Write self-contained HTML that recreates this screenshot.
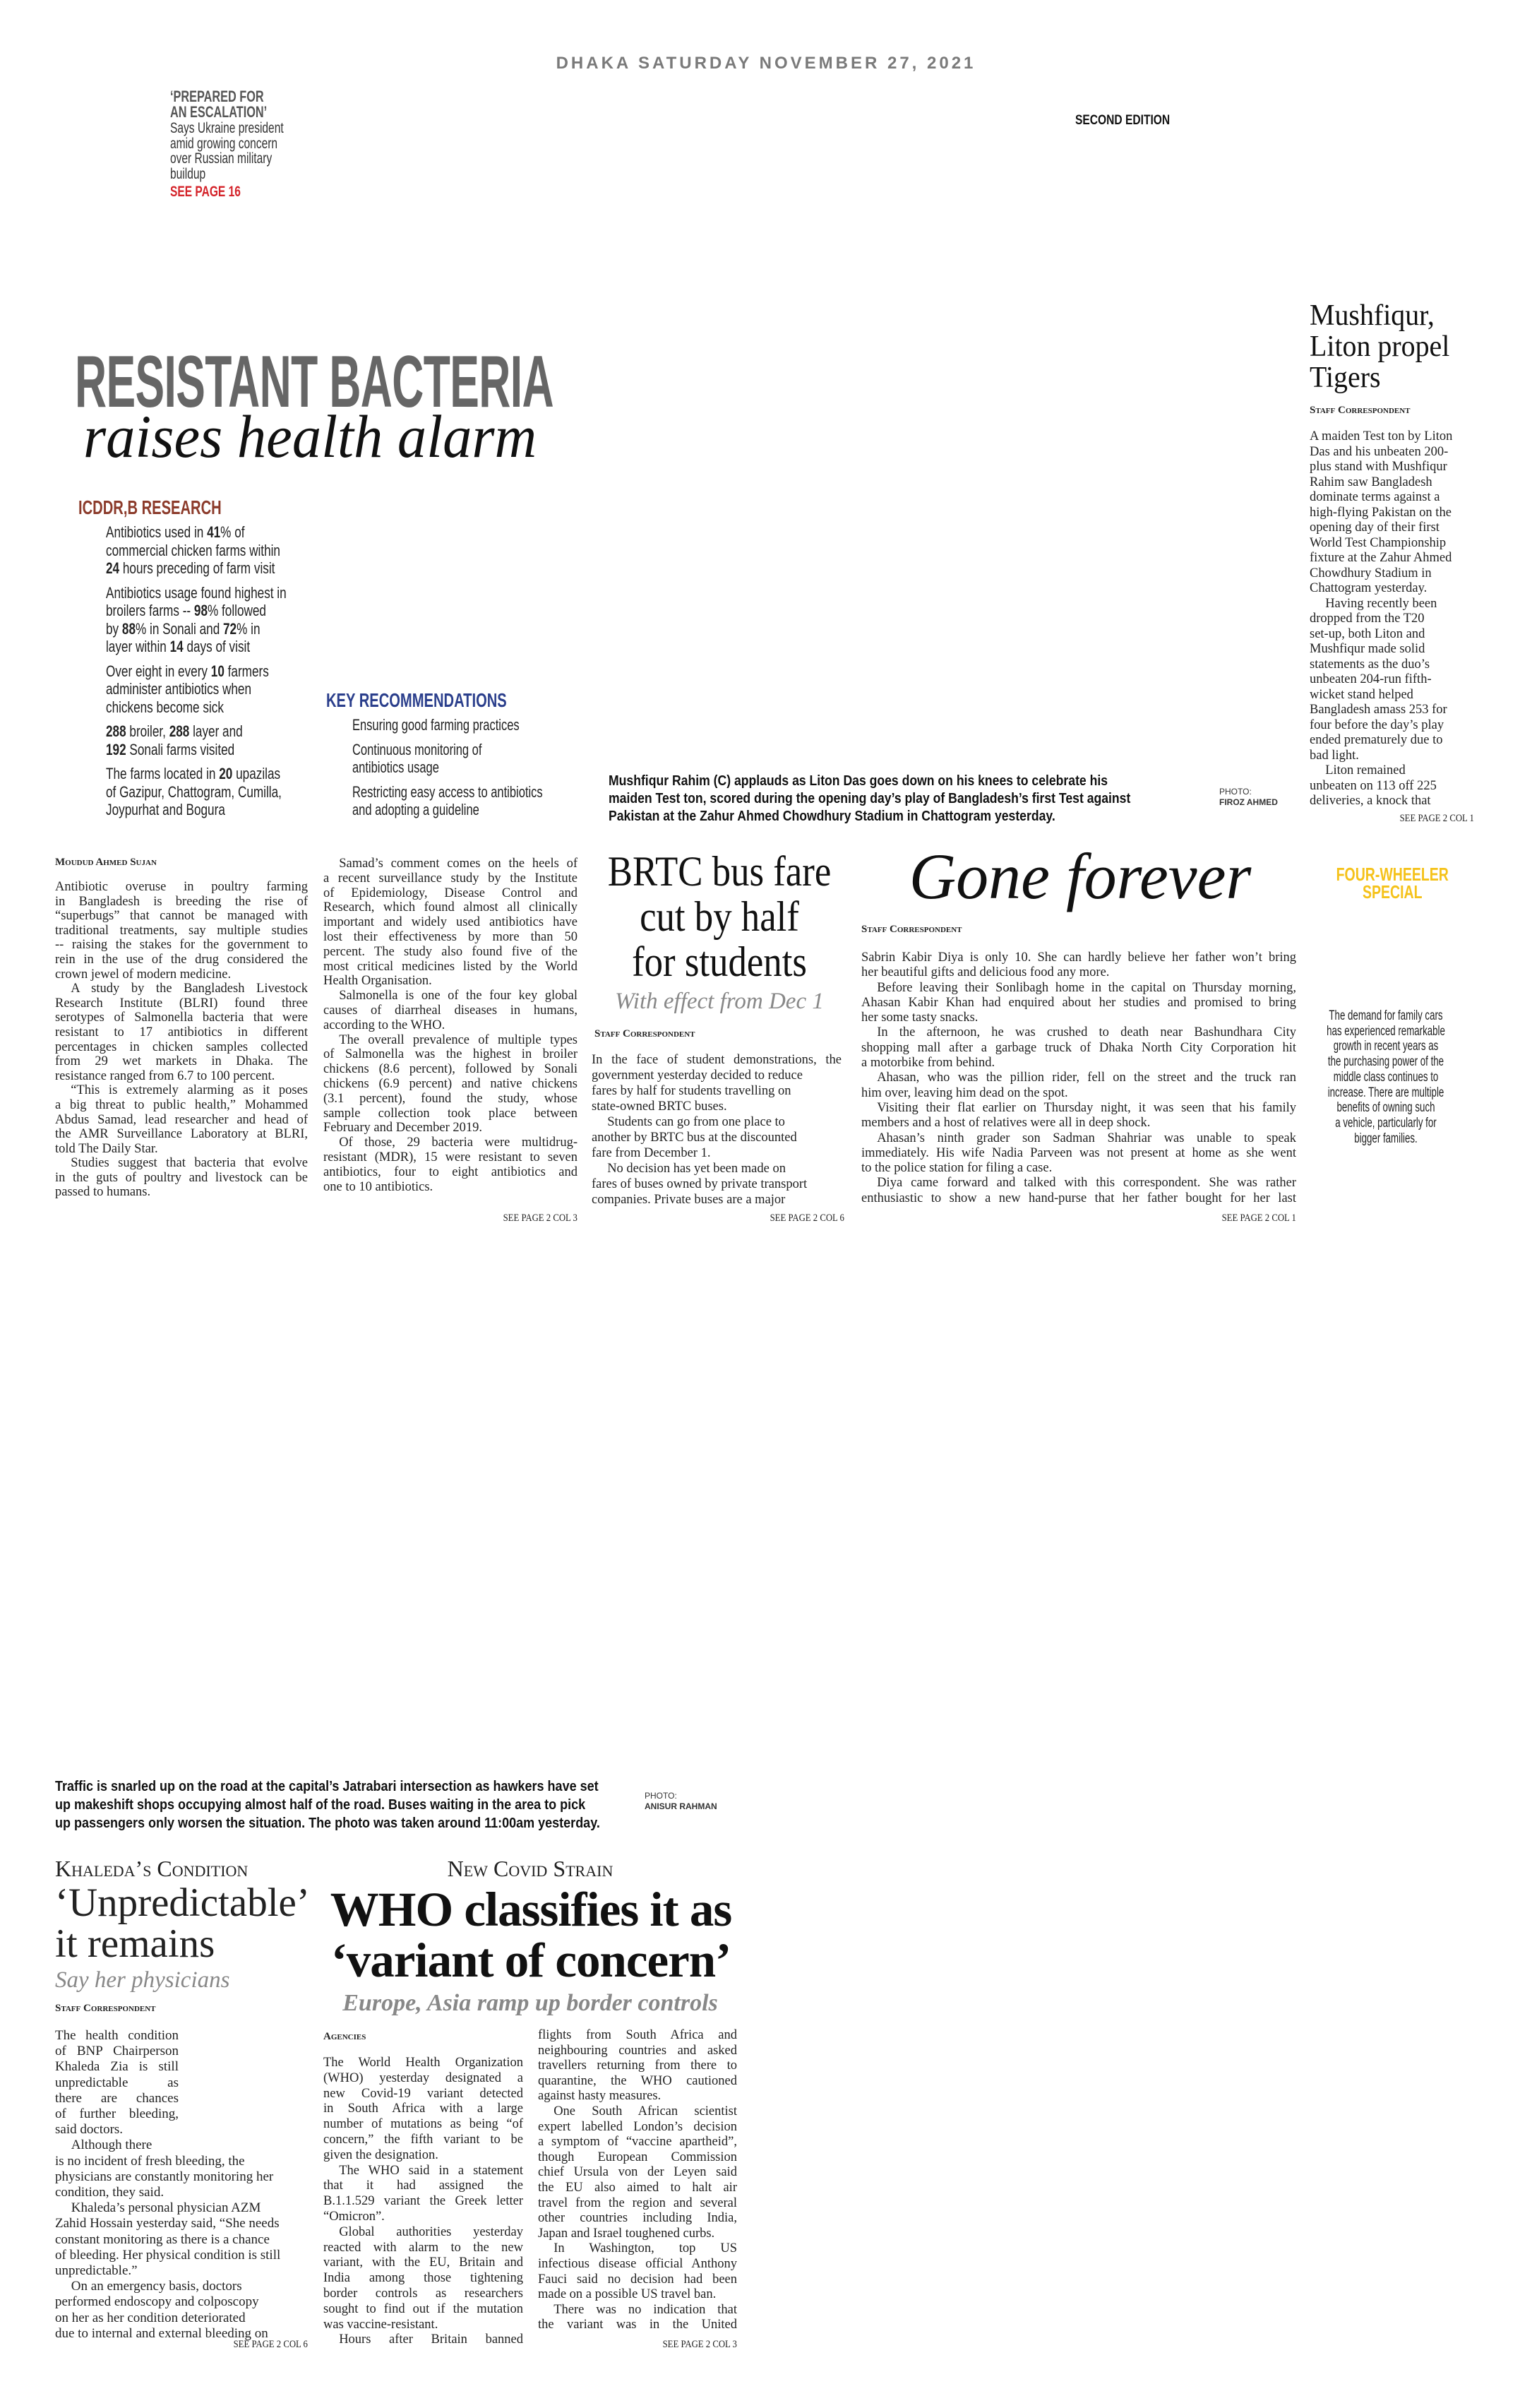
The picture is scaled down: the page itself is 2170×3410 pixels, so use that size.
<!DOCTYPE html>
<html><head><meta charset="utf-8">
<style>
*{margin:0;padding:0;box-sizing:border-box}
body{width:2170px;height:3410px;background:#fff;position:relative;overflow:hidden;font-family:"Liberation Serif",serif;color:#222}
.a{position:absolute;white-space:nowrap}
.sx{transform-origin:0 0}
.cs{font-family:"Liberation Sans",sans-serif;font-weight:bold}
.j{text-align:justify;text-align-last:justify;white-space:nowrap;overflow:visible}
.col div{white-space:nowrap}
.ind{text-indent:1.2em}
.sc{font-variant:small-caps}
.see{position:absolute;font-size:15px;font-family:"Liberation Serif",serif;text-align:right;transform:scaleX(.85);transform-origin:100% 0}
</style></head><body>

<div class="a cs" style="left:0;width:2170px;text-align:center;top:76px;font-size:24px;letter-spacing:4px;color:#7a7a7a">DHAKA SATURDAY NOVEMBER 27, 2021</div>

<div class="a sx" style="left:241px;top:126px;transform:scaleX(.74);font-family:'Liberation Sans',sans-serif;font-size:21px;line-height:21.5px;color:#333">
<div style="font-weight:bold;font-size:22px;line-height:21.5px;color:#555">‘PREPARED FOR<br>AN ESCALATION’</div>
<div style="margin-top:2px">Says Ukraine president<br>amid growing concern<br>over Russian military<br>buildup</div>
<div style="font-weight:bold;color:#d4232a;margin-top:4px">SEE PAGE 16</div>
</div>

<div class="a cs sx" style="left:1523px;top:160px;font-size:19px;transform:scaleX(.82);color:#111">SECOND EDITION</div>

<div class="a cs sx" style="left:106px;top:482px;font-size:104px;color:#666;transform:scaleX(.6);letter-spacing:-1px">RESISTANT BACTERIA</div>
<div class="a sx" style="left:118px;top:568px;font-size:86px;font-style:italic;color:#111;transform:scaleX(.96)">raises health alarm</div>

<div class="a cs sx" style="left:111px;top:703px;font-size:28px;color:#8c3b2b;transform:scaleX(.72)">ICDDR,B RESEARCH</div>
<div class="a sx" style="left:150px;top:741px;font-family:'Liberation Sans',sans-serif;font-size:22px;line-height:25.5px;transform:scaleX(.78);color:#222">
<div>Antibiotics used in <b>41</b>% of<br>commercial chicken farms within<br><b>24</b> hours preceding of farm visit</div>
<div style="margin-top:9px">Antibiotics usage found highest in<br>broilers farms -- <b>98</b>% followed<br>by <b>88</b>% in Sonali and <b>72</b>% in<br>layer within <b>14</b> days of visit</div>
<div style="margin-top:9px">Over eight in every <b>10</b> farmers<br>administer antibiotics when<br>chickens become sick</div>
<div style="margin-top:9px"><b>288</b> broiler, <b>288</b> layer and<br><b>192</b> Sonali farms visited</div>
<div style="margin-top:9px">The farms located in <b>20</b> upazilas<br>of Gazipur, Chattogram, Cumilla,<br>Joypurhat and Bogura</div>
</div>

<div class="a cs sx" style="left:462px;top:976px;font-size:28px;color:#2b3f8c;transform:scaleX(.72)">KEY RECOMMENDATIONS</div>
<div class="a sx" style="left:499px;top:1014px;font-family:'Liberation Sans',sans-serif;font-size:22px;line-height:25.5px;transform:scaleX(.75);color:#222">
<div>Ensuring good farming practices</div>
<div style="margin-top:9px">Continuous monitoring of<br>antibiotics usage</div>
<div style="margin-top:9px">Restricting easy access to antibiotics<br>and adopting a guideline</div>
</div>

<div class="a cs sx" style="left:862px;top:1094px;font-size:20px;line-height:25px;transform:scaleX(.88);color:#111">Mushfiqur Rahim (C) applauds as Liton Das goes down on his knees to celebrate his<br>maiden Test ton, scored during the opening day’s play of Bangladesh’s first Test against<br>Pakistan at the Zahur Ahmed Chowdhury Stadium in Chattogram yesterday.</div>
<div class="a" style="left:1727px;top:1114px;font-family:'Liberation Sans',sans-serif;font-size:12px;line-height:15px;color:#333">PHOTO:<br><b>FIROZ AHMED</b></div>

<div class="a sx" style="left:1855px;top:425px;font-size:42px;line-height:44px;transform:scaleX(.95);color:#111">Mushfiqur,<br>Liton propel<br>Tigers</div>
<div class="a sc" style="left:1855px;top:573px;font-size:15px;font-weight:bold;color:#222">Staff Correspondent</div>
<div class="a col" style="left:1855px;top:608px;width:232px;font-size:18.5px;line-height:21.5px">
<div>A maiden Test ton by Liton</div><div>Das and his unbeaten 200-</div><div>plus stand with Mushfiqur</div><div>Rahim saw Bangladesh</div><div>dominate terms against a</div><div>high-flying Pakistan on the</div><div>opening day of their first</div><div>World Test Championship</div><div>fixture at the Zahur Ahmed</div><div>Chowdhury Stadium in</div><div>Chattogram yesterday.</div><div class="ind">Having recently been</div><div>dropped from the T20</div><div>set-up, both Liton and</div><div>Mushfiqur made solid</div><div>statements as the duo’s</div><div>unbeaten 204-run fifth-</div><div>wicket stand helped</div><div>Bangladesh amass 253 for</div><div>four before the day’s play</div><div>ended prematurely due to</div><div>bad light.</div><div class="ind">Liton remained</div><div>unbeaten on 113 off 225</div><div>deliveries, a knock that</div>
</div>
<div class="see" style="right:82px;top:1151px">SEE PAGE 2 COL 1</div>

<!-- middle -->
<div class="a sc" style="left:78px;top:1213px;font-size:15px;font-weight:bold">Moudud Ahmed Sujan</div>
<div class="a col" style="left:78px;top:1246px;width:358px;font-size:18.5px;line-height:20.6px">
<div class="j">Antibiotic overuse in poultry farming</div><div class="j">in Bangladesh is breeding the rise of</div><div class="j">“superbugs” that cannot be managed with</div><div class="j">traditional treatments, say multiple studies</div><div class="j">-- raising the stakes for the government to</div><div class="j">rein in the use of the drug considered the</div><div>crown jewel of modern medicine.</div><div class="j ind">A study by the Bangladesh Livestock</div><div class="j">Research Institute (BLRI) found three</div><div class="j">serotypes of Salmonella bacteria that were</div><div class="j">resistant to 17 antibiotics in different</div><div class="j">percentages in chicken samples collected</div><div class="j">from 29 wet markets in Dhaka. The</div><div>resistance ranged from 6.7 to 100 percent.</div><div class="j ind">“This is extremely alarming as it poses</div><div class="j">a big threat to public health,” Mohammed</div><div class="j">Abdus Samad, lead researcher and head of</div><div class="j">the AMR Surveillance Laboratory at BLRI,</div><div>told The Daily Star.</div><div class="j ind">Studies suggest that bacteria that evolve</div><div class="j">in the guts of poultry and livestock can be</div><div>passed to humans.</div>
</div>
<div class="a col" style="left:458px;top:1213px;width:360px;font-size:18.5px;line-height:20.8px">
<div class="j ind">Samad’s comment comes on the heels of</div><div class="j">a recent surveillance study by the Institute</div><div class="j">of Epidemiology, Disease Control and</div><div class="j">Research, which found almost all clinically</div><div class="j">important and widely used antibiotics have</div><div class="j">lost their effectiveness by more than 50</div><div class="j">percent. The study also found five of the</div><div class="j">most critical medicines listed by the World</div><div>Health Organisation.</div><div class="j ind">Salmonella is one of the four key global</div><div class="j">causes of diarrheal diseases in humans,</div><div>according to the WHO.</div><div class="j ind">The overall prevalence of multiple types</div><div class="j">of Salmonella was the highest in broiler</div><div class="j">chickens (8.6 percent), followed by Sonali</div><div class="j">chickens (6.9 percent) and native chickens</div><div class="j">(3.1 percent), found the study, whose</div><div class="j">sample collection took place between</div><div>February and December 2019.</div><div class="j ind">Of those, 29 bacteria were multidrug-</div><div class="j">resistant (MDR), 15 were resistant to seven</div><div class="j">antibiotics, four to eight antibiotics and</div><div>one to 10 antibiotics.</div>
</div>
<div class="see" style="right:1352px;top:1717px">SEE PAGE 2 COL 3</div>

<div class="a sx" style="left:843px;top:1202px;width:400px;transform:scaleX(.88);text-align:center;font-size:60px;line-height:64px;color:#111">BRTC bus fare<br>cut by half<br>for students</div>
<div class="a" style="left:843px;top:1400px;width:352px;text-align:center;font-size:33px;font-style:italic;color:#888">With effect from Dec 1</div>
<div class="a sc" style="left:842px;top:1456px;font-size:15px;font-weight:bold">Staff Correspondent</div>
<div class="a col" style="left:838px;top:1490px;width:354px;font-size:18.5px;line-height:22px">
<div class="j">In the face of student demonstrations, the</div><div>government yesterday decided to reduce</div><div>fares by half for students travelling on</div><div>state-owned BRTC buses.</div><div class="ind">Students can go from one place to</div><div>another by BRTC bus at the discounted</div><div>fare from December 1.</div><div class="ind">No decision has yet been made on</div><div>fares of buses owned by private transport</div><div>companies. Private buses are a major</div>
</div>
<div class="see" style="right:974px;top:1717px">SEE PAGE 2 COL 6</div>

<div class="a" style="left:1220px;top:1188px;width:620px;text-align:center;font-size:92px;font-style:italic;color:#111">Gone forever</div>
<div class="a sc" style="left:1220px;top:1308px;font-size:15px;font-weight:bold">Staff Correspondent</div>
<div class="a col" style="left:1220px;top:1346px;width:616px;font-size:18.5px;line-height:21.3px">
<div class="j">Sabrin Kabir Diya is only 10. She can hardly believe her father won’t bring</div><div>her beautiful gifts and delicious food any more.</div><div class="j ind">Before leaving their Sonlibagh home in the capital on Thursday morning,</div><div class="j">Ahasan Kabir Khan had enquired about her studies and promised to bring</div><div>her some tasty snacks.</div><div class="j ind">In the afternoon, he was crushed to death near Bashundhara City</div><div class="j">shopping mall after a garbage truck of Dhaka North City Corporation hit</div><div>a motorbike from behind.</div><div class="j ind">Ahasan, who was the pillion rider, fell on the street and the truck ran</div><div>him over, leaving him dead on the spot.</div><div class="j ind">Visiting their flat earlier on Thursday night, it was seen that his family</div><div>members and a host of relatives were all in deep shock.</div><div class="j ind">Ahasan’s ninth grader son Sadman Shahriar was unable to speak</div><div class="j">immediately. His wife Nadia Parveen was not present at home as she went</div><div>to the police station for filing a case.</div><div class="j ind">Diya came forward and talked with this correspondent. She was rather</div><div class="j">enthusiastic to show a new hand-purse that her father bought for her last</div>
</div>
<div class="see" style="right:334px;top:1717px">SEE PAGE 2 COL 1</div>

<div class="a cs sx" style="left:1871px;top:1226px;width:270px;text-align:center;font-size:26px;line-height:25px;color:#f5c21a;transform:scaleX(.75)">FOUR-WHEELER<br>SPECIAL</div>
<div class="a sx" style="left:1858px;top:1428px;width:300px;text-align:center;font-family:'Liberation Sans',sans-serif;font-size:19px;line-height:21.7px;color:#222;transform:scaleX(.7)">The demand for family cars<br>has experienced remarkable<br>growth in recent years as<br>the purchasing power of the<br>middle class continues to<br>increase. There are multiple<br>benefits of owning such<br>a vehicle, particularly for<br>bigger families.</div>

<!-- bottom -->
<div class="a cs sx" style="left:78px;top:2517px;font-size:20px;line-height:26px;transform:scaleX(.9);color:#111">Traffic is snarled up on the road at the capital’s Jatrabari intersection as hawkers have set<br>up makeshift shops occupying almost half of the road. Buses waiting in the area to pick<br>up passengers only worsen the situation. The photo was taken around 11:00am yesterday.</div>
<div class="a" style="left:913px;top:2536px;font-family:'Liberation Sans',sans-serif;font-size:12px;line-height:15px;color:#333">PHOTO:<br><b>ANISUR RAHMAN</b></div>

<div class="a sc" style="left:78px;top:2628px;font-size:32px;color:#222">Khaleda’s Condition</div>
<div class="a" style="left:78px;top:2666px;font-size:57px;line-height:58px;color:#222">‘Unpredictable’<br>it remains</div>
<div class="a" style="left:78px;top:2786px;font-size:33px;font-style:italic;color:#888">Say her physicians</div>
<div class="a sc" style="left:78px;top:2836px;font-size:15px;font-weight:bold">Staff Correspondent</div>
<div class="a col" style="left:78px;top:2872px;width:358px;font-size:19px;line-height:22.2px">
<div style="width:175px" class="j">The health condition</div><div style="width:175px" class="j">of BNP Chairperson</div><div style="width:175px" class="j">Khaleda Zia is still</div><div style="width:175px" class="j">unpredictable as</div><div style="width:175px" class="j">there are chances</div><div style="width:175px" class="j">of further bleeding,</div><div>said doctors.</div><div class="ind">Although there</div><div>is no incident of fresh bleeding, the</div><div>physicians are constantly monitoring her</div><div>condition, they said.</div><div class="ind">Khaleda’s personal physician AZM</div><div>Zahid Hossain yesterday said, “She needs</div><div>constant monitoring as there is a chance</div><div>of bleeding. Her physical condition is still</div><div>unpredictable.”</div><div class="ind">On an emergency basis, doctors</div><div>performed endoscopy and colposcopy</div><div>on her as her condition deteriorated</div><div>due to internal and external bleeding on</div>
</div>
<div class="see" style="right:1734px;top:3312px">SEE PAGE 2 COL 6</div>

<div class="a sc" style="left:458px;top:2628px;width:586px;text-align:center;font-size:32px;color:#222">New Covid Strain</div>
<div class="a" style="left:442px;top:2668px;width:620px;text-align:center;font-size:69px;line-height:72px;color:#111;font-weight:bold;letter-spacing:-1px">WHO classifies it as<br>‘variant of concern’</div>
<div class="a" style="left:458px;top:2818px;width:586px;text-align:center;font-size:34px;font-style:italic;font-weight:bold;color:#888">Europe, Asia ramp up border controls</div>
<div class="a sc" style="left:458px;top:2876px;font-size:15px;font-weight:bold">Agencies</div>
<div class="a col" style="left:458px;top:2911px;width:283px;font-size:18.5px;line-height:21.8px">
<div class="j">The World Health Organization</div><div class="j">(WHO) yesterday designated a</div><div class="j">new Covid-19 variant detected</div><div class="j">in South Africa with a large</div><div class="j">number of mutations as being “of</div><div class="j">concern,” the fifth variant to be</div><div>given the designation.</div><div class="j ind">The WHO said in a statement</div><div class="j">that it had assigned the</div><div class="j">B.1.1.529 variant the Greek letter</div><div>“Omicron”.</div><div class="j ind">Global authorities yesterday</div><div class="j">reacted with alarm to the new</div><div class="j">variant, with the EU, Britain and</div><div class="j">India among those tightening</div><div class="j">border controls as researchers</div><div class="j">sought to find out if the mutation</div><div>was vaccine-resistant.</div><div class="j ind">Hours after Britain banned</div>
</div>
<div class="a col" style="left:762px;top:2872px;width:282px;font-size:18.5px;line-height:21.6px">
<div class="j">flights from South Africa and</div><div class="j">neighbouring countries and asked</div><div class="j">travellers returning from there to</div><div class="j">quarantine, the WHO cautioned</div><div>against hasty measures.</div><div class="j ind">One South African scientist</div><div class="j">expert labelled London’s decision</div><div class="j">a symptom of “vaccine apartheid”,</div><div class="j">though European Commission</div><div class="j">chief Ursula von der Leyen said</div><div class="j">the EU also aimed to halt air</div><div class="j">travel from the region and several</div><div class="j">other countries including India,</div><div>Japan and Israel toughened curbs.</div><div class="j ind">In Washington, top US</div><div class="j">infectious disease official Anthony</div><div class="j">Fauci said no decision had been</div><div>made on a possible US travel ban.</div><div class="j ind">There was no indication that</div><div class="j">the variant was in the United</div>
</div>
<div class="see" style="right:1126px;top:3312px">SEE PAGE 2 COL 3</div>

</body></html>
